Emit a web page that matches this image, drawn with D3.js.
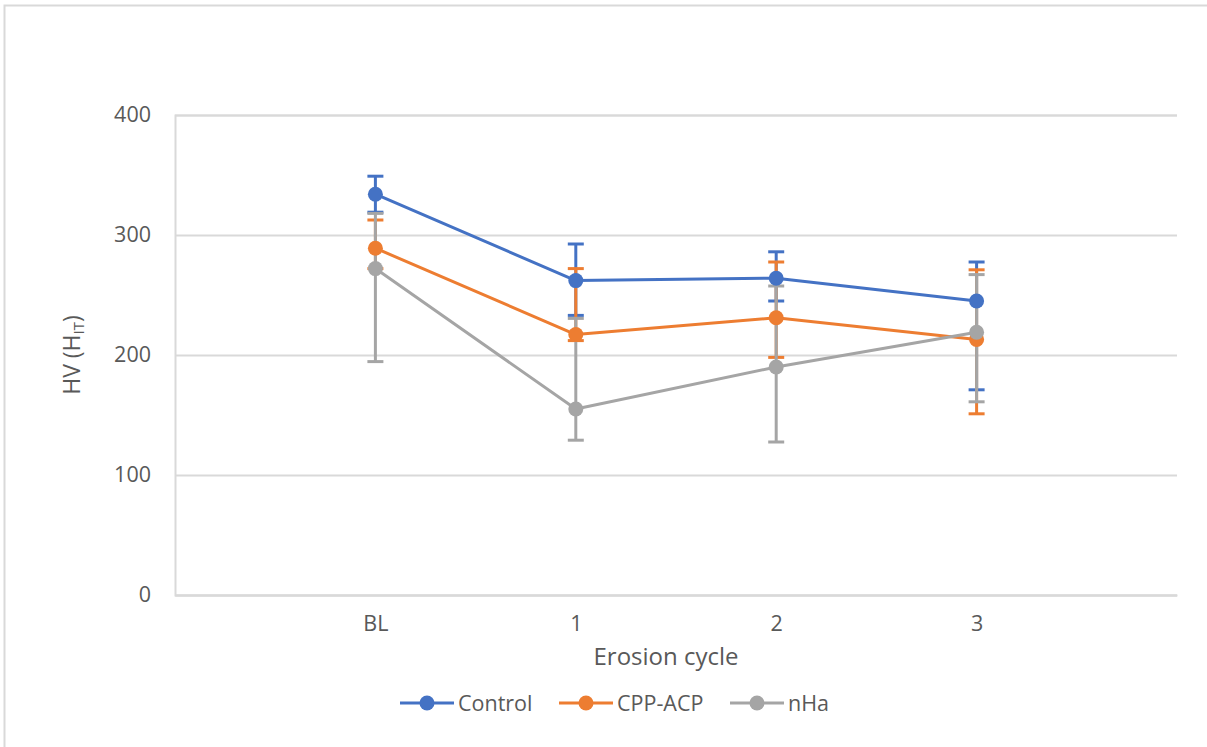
<!DOCTYPE html>
<html><head><meta charset="utf-8">
<script src="https://cdn.jsdelivr.net/npm/d3@7"></script>
<style>
html,body{margin:0;padding:0;background:#fff;}
svg text{font-family:"Open Sans","Noto Sans",sans-serif;fill:#595959;}
</style></head>
<body>
<svg id="chart" width="1207" height="747"></svg>
<script>
const categories = ["BL", "1", "2", "3"];
const seriesNames = ["Control", "CPP-ACP", "nHa"];
const controlMean = [334, 262, 264, 245];
const controlUpper = [349, 292.5, 286, 277.5];
const controlLower = [319, 233, 245, 171];
const cppMean = [289, 217, 231, 213];
const cppUpper = [312.5, 272, 277.5, 271];
const cppLower = [272, 212, 198, 151];
const nhaMean = [272, 155, 190, 219];
const nhaUpper = [318, 230.5, 257.5, 267];
const nhaLower = [194.5, 129, 127.5, 161];
const yTicks = [0, 100, 200, 300, 400];
const colors = ["#4472C4", "#ED7D31", "#A5A5A5"];

const series = [
  {name: seriesNames[0], mean: controlMean, up: controlUpper, lo: controlLower, color: colors[0]},
  {name: seriesNames[1], mean: cppMean, up: cppUpper, lo: cppLower, color: colors[1]},
  {name: seriesNames[2], mean: nhaMean, up: nhaUpper, lo: nhaLower, color: colors[2]}
];

const svg = d3.select("#chart");
const mLeft = 175, mRight = 1177, mTop = 115, mBottom = 595;

// outer chart border
svg.append("path").attr("d", "M4.5,747 L4.5,5.5 L1207,5.5")
  .attr("fill", "none").attr("stroke", "#d9d9d9").attr("stroke-width", 2);

const x = d3.scalePoint().domain(categories).range([mLeft, mRight]).padding(1);
const y = d3.scaleLinear().domain([0, 400]).range([mBottom, mTop]);

// gridlines
const yAxis = d3.axisLeft(y).tickValues(yTicks).tickSize(-(mRight - mLeft)).tickFormat(d3.format("d")).tickPadding(24);
const gy = svg.append("g").attr("transform", `translate(${mLeft},0)`).call(yAxis);
gy.select(".domain").attr("stroke", "#d9d9d9").attr("stroke-width", 2);
gy.selectAll(".tick line").attr("stroke", "#d9d9d9").attr("stroke-width", 2);
gy.selectAll(".tick text").attr("font-size", 21.5).style("fill", "#595959");

const xAxis = d3.axisBottom(x).tickSize(0).tickPadding(21);
const gx = svg.append("g").attr("transform", `translate(0,${mBottom})`).call(xAxis);
gx.select(".domain").attr("stroke", "#d9d9d9").attr("stroke-width", 2);
gx.selectAll(".tick text").attr("font-size", 21.5).style("fill", "#595959");

// axis titles
svg.append("text").attr("x", (mLeft + mRight) / 2 - 10).attr("y", 665)
  .attr("text-anchor", "middle").attr("font-size", 24).text("Erosion cycle");
const yt = svg.append("text").attr("transform", `translate(80,${(mTop + mBottom) / 2}) rotate(-90)`)
  .attr("text-anchor", "middle").attr("font-size", 23);
yt.append("tspan").text("HV (H");
yt.append("tspan").attr("font-size", 15).attr("dy", 4).text("IT");
yt.append("tspan").attr("dy", -4).text(")");

// error bars
const cap = 8;
series.forEach(s => {
  const g = svg.append("g").attr("stroke", s.color).attr("stroke-width", 3).attr("fill", "none");
  categories.forEach((c, i) => {
    const cx = x(c);
    g.append("line").attr("x1", cx).attr("x2", cx).attr("y1", y(s.up[i])).attr("y2", y(s.lo[i]));
    g.append("line").attr("x1", cx - cap).attr("x2", cx + cap).attr("y1", y(s.up[i])).attr("y2", y(s.up[i]));
    g.append("line").attr("x1", cx - cap).attr("x2", cx + cap).attr("y1", y(s.lo[i])).attr("y2", y(s.lo[i]));
  });
});

// lines
const line = d3.line().x((d, i) => x(categories[i])).y(d => y(d));
series.forEach(s => {
  svg.append("path").datum(s.mean).attr("d", line)
    .attr("fill", "none").attr("stroke", s.color).attr("stroke-width", 3).attr("stroke-linejoin", "round");
});
// markers
series.forEach(s => {
  svg.append("g").selectAll("circle").data(s.mean).join("circle")
    .attr("cx", (d, i) => x(categories[i])).attr("cy", d => y(d)).attr("r", 7.5)
    .attr("fill", s.color);
});

// legend
const legendX = [400, 559, 730];
series.forEach((s, i) => {
  const g = svg.append("g").attr("transform", `translate(${legendX[i]},703)`);
  g.append("line").attr("x1", 0).attr("x2", 54).attr("y1", 0).attr("y2", 0)
    .attr("stroke", s.color).attr("stroke-width", 3);
  g.append("circle").attr("cx", 27).attr("cy", 0).attr("r", 7.5).attr("fill", s.color);
  g.append("text").attr("x", 58).attr("y", 0).attr("dy", "0.35em").attr("font-size", 21.5).text(s.name);
});
</script>
</body></html>
